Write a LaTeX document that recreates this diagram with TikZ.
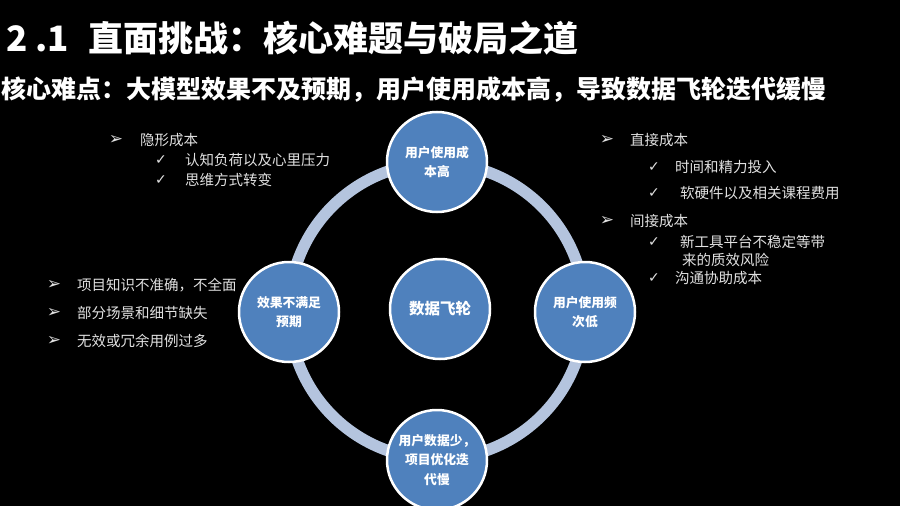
\documentclass[tikz,border=0pt]{standalone}
\usepackage{fontspec}
\setmainfont{Noto Sans CJK SC}
\newfontfamily\symfont{DejaVu Sans}
\definecolor{ringblue}{RGB}{180,196,222}
\definecolor{nodeblue}{RGB}{79,129,189}
\definecolor{listgray}{RGB}{225,225,225}
\tikzset{
  ring/.style={draw=ringblue, line width=11.5pt},
  bubble/.style={circle, fill=nodeblue, draw=white, line width=2.5pt, minimum size=100pt,
    inner sep=0pt, text=white, font=\bfseries\fontsize{12.8}{19.5}\selectfont, align=center},
  hubbubble/.style={bubble, font=\bfseries\fontsize{15.5}{19}\selectfont},
  titletext/.style={anchor=west, inner sep=0pt, text=white, font=\bfseries\fontsize{35}{40}\selectfont},
  subtext/.style={anchor=west, inner sep=0pt, text=white, font=\bfseries\fontsize{25}{30}\selectfont},
  item/.style={anchor=west, inner sep=0pt, text=listgray, font=\fontsize{14.5}{17}\selectfont},
  arrowmark/.style={anchor=center, inner sep=0pt, text=listgray, font=\symfont\bfseries\fontsize{17}{19}\selectfont},
  checkmark/.style={anchor=center, inner sep=0pt, text=listgray, font=\symfont\fontsize{14}{16}\selectfont}
}
\begin{document}
\begin{tikzpicture}[x=1pt,y=-1pt]
\fill[black] (0,0) rectangle (900,506);
\useasboundingbox (0,0) rectangle (900,506);

% title
\node[titletext] (title) at (6,38) {2 .1\hspace{19pt}直面挑战：核心难题与破局之道};
\node[subtext] (subtitle) at (1,90) {核心难点：大模型效果不及预期，用户使用成本高，导致数据飞轮迭代缓慢};

% ring
\coordinate (hubc) at (437,311);
\draw[ring] (hubc) circle[radius=148pt];

% bubbles
\node[bubble] (top) at (437,162) {用户使用成\\本高};
\node[bubble] (left) at (289,312) {效果不满足\\预期};
\node[bubble] (right) at (585,312) {用户使用频\\次低};
\node[bubble] (bottom) at (437,460) {用户数据少，\\项目优化迭\\代慢};
\node[hubbubble] (hub) at (440,309) {数据飞轮};

% top-left list
\node[arrowmark] (a1) at (116,140) {➢};
\node[item] (t1) at (140,140) {隐形成本};
\node[checkmark] (c1) at (161,160) {✓};
\node[item] (t2) at (185,160) {认知负荷以及心里压力};
\node[checkmark] (c2) at (161,180) {✓};
\node[item] (t3) at (185,180) {思维方式转变};

% right list
\node[arrowmark] (a2) at (607,140) {➢};
\node[item] (r1) at (630,140) {直接成本};
\node[checkmark] (c3) at (654,167) {✓};
\node[item] (r2) at (675,167) {时间和精力投入};
\node[checkmark] (c4) at (654,193) {✓};
\node[item] (r3) at (680,193) {软硬件以及相关课程费用};
\node[arrowmark] (a3) at (607,221) {➢};
\node[item] (r4) at (630,221) {间接成本};
\node[checkmark] (c5) at (654,242) {✓};
\node[item] (r5) at (680,242) {新工具平台不稳定等带};
\node[item] (r6) at (682,260) {来的质效风险};
\node[checkmark] (c6) at (654,278) {✓};
\node[item] (r7) at (675,278) {沟通协助成本};

% left list
\node[arrowmark] (a4) at (54,285) {➢};
\node[item] (l1) at (77,285) {项目知识不准确，不全面};
\node[arrowmark] (a5) at (54,313) {➢};
\node[item] (l2) at (77,313) {部分场景和细节缺失};
\node[arrowmark] (a6) at (54,341) {➢};
\node[item] (l3) at (77,341) {无效或冗余用例过多};
\end{tikzpicture}
\end{document}
